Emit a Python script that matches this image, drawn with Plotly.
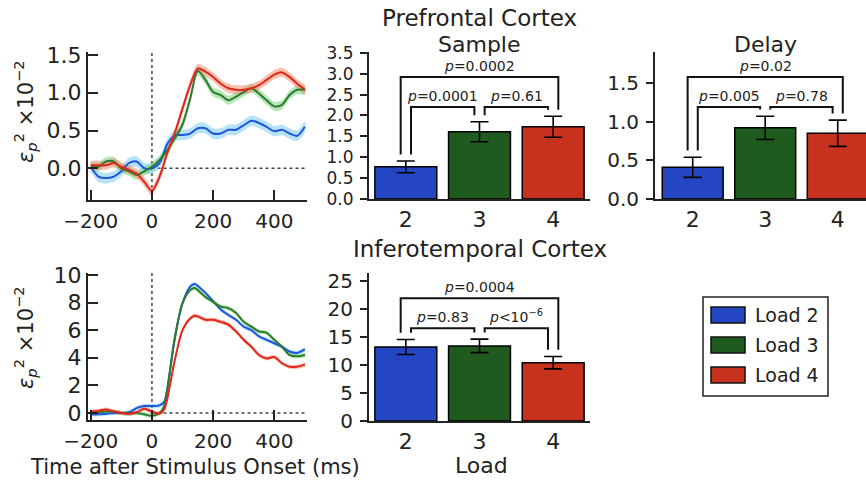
import plotly.graph_objects as go

# ---------------- data ----------------
t_pfc = [-200, -175, -150, -125, -100, -75, -50, -25, 0, 25, 50, 75, 100, 125, 150,
         175, 200, 225, 250, 275, 300, 325, 350, 375, 400, 425, 450, 475, 500]
pfc_load2 = [0.02, -0.11, -0.13, -0.11, -0.04, 0.07, 0.09, 0.0, 0.0, 0.07, 0.32, 0.44, 0.44, 0.46, 0.53,
             0.53, 0.46, 0.46, 0.51, 0.51, 0.57, 0.63, 0.60, 0.55, 0.49, 0.51, 0.46, 0.43, 0.55]
pfc_load3 = [0.02, 0.02, 0.09, 0.09, 0.0, -0.04, -0.09, -0.04, 0.02, 0.11, 0.24, 0.40, 0.58, 0.92, 1.29,
             1.17, 1.01, 0.97, 0.90, 0.95, 1.01, 1.06, 0.99, 0.90, 0.82, 0.84, 0.97, 1.04, 1.04]
pfc_load4 = [0.04, 0.04, 0.04, 0.07, 0.02, -0.02, -0.07, -0.18, -0.30, -0.11, 0.20, 0.47, 0.79, 1.10, 1.32,
             1.28, 1.21, 1.12, 1.06, 1.04, 1.04, 1.06, 1.10, 1.17, 1.24, 1.27, 1.21, 1.12, 1.04]
pfc_sem2 = [0.07, 0.07, 0.07, 0.07, 0.07, 0.07, 0.07, 0.07, 0.07, 0.07, 0.07, 0.07, 0.07, 0.07, 0.07,
            0.07, 0.07, 0.07, 0.07, 0.07, 0.07, 0.07, 0.07, 0.07, 0.07, 0.07, 0.07, 0.07, 0.07]
pfc_sem3 = [0.06, 0.06, 0.06, 0.06, 0.06, 0.06, 0.06, 0.06, 0.06, 0.06, 0.06, 0.06, 0.06, 0.06, 0.06,
            0.06, 0.06, 0.06, 0.06, 0.06, 0.06, 0.06, 0.06, 0.06, 0.06, 0.06, 0.06, 0.06, 0.06]
pfc_sem4 = [0.06, 0.06, 0.06, 0.06, 0.06, 0.06, 0.06, 0.06, 0.06, 0.06, 0.06, 0.06, 0.06, 0.06, 0.06,
            0.06, 0.06, 0.06, 0.06, 0.06, 0.06, 0.06, 0.06, 0.06, 0.06, 0.06, 0.06, 0.06, 0.06]

t_it = [-200, -175, -150, -125, -100, -75, -50, -25, 0, 25, 40, 50, 75, 100, 125, 140, 150,
        175, 200, 225, 250, 275, 300, 325, 350, 375, 400, 425, 450, 475, 500]
it_load2 = [-0.1, -0.1, -0.05, 0.0, 0.0, 0.05, 0.35, 0.5, 0.5, 0.55, 0.8, 1.7, 5.5, 7.95, 9.15, 9.35, 9.2,
            8.7, 8.1, 7.5, 7.1, 6.75, 6.25, 6.0, 5.55, 5.3, 5.05, 4.8, 4.45, 4.35, 4.6]
it_load3 = [0.0, 0.05, 0.1, 0.1, 0.0, -0.05, 0.0, -0.1, -0.2, 0.0, 0.5, 1.7, 5.4, 7.95, 8.9, 9.05, 8.9,
            8.4, 8.05, 7.7, 7.6, 7.25, 6.6, 6.25, 5.9, 5.8, 5.3, 4.8, 4.2, 4.1, 4.2]
it_load4 = [0.1, 0.15, 0.25, 0.1, 0.0, -0.05, 0.05, 0.3, 0.1, -0.05, 0.25, 1.0, 3.85, 6.0, 6.85, 7.05, 7.0,
            6.75, 6.75, 6.6, 6.4, 5.9, 5.3, 4.8, 4.2, 3.95, 4.05, 3.6, 3.35, 3.35, 3.5]
it_sem = [0.15, 0.15, 0.15, 0.15, 0.15, 0.15, 0.15, 0.15, 0.15, 0.15, 0.15, 0.15, 0.15, 0.15, 0.15, 0.15, 0.15,
          0.15, 0.15, 0.15, 0.15, 0.15, 0.15, 0.15, 0.15, 0.15, 0.15, 0.15, 0.15, 0.15, 0.15]

loads = [2, 3, 4]
load_names = ["Load 2", "Load 3", "Load 4"]
sample_mean = [0.77, 1.61, 1.73]
sample_err = [0.14, 0.24, 0.25]
delay_mean = [0.41, 0.92, 0.85]
delay_err = [0.13, 0.15, 0.17]
it_mean = [13.2, 13.4, 10.4]
it_err = [1.35, 1.2, 1.1]

sample_tests = [(2, 4, "=0.0002"), (2, 3, "=0.0001"), (3, 4, "=0.61")]
delay_tests = [(2, 4, "=0.02"), (2, 3, "=0.005"), (3, 4, "=0.78")]
it_tests = [(2, 4, "=0.0004"), (2, 3, "=0.83"), (3, 4, "&lt;10<sup>−6</sup>")]

pfc_ticks = [0.0, 0.5, 1.0, 1.5]
it_line_ticks = [0, 2, 4, 6, 8, 10]
time_ticks = [-200, 0, 200, 400]
sample_ticks = [0.0, 0.5, 1.0, 1.5, 2.0, 2.5, 3.0, 3.5]
delay_ticks = [0.0, 0.5, 1.0, 1.5]
it_bar_ticks = [0, 5, 10, 15, 20, 25]

# ---------------- style ----------------
W, H = 866, 484
FONT = "DejaVu Sans"
line_colors = ["#1f55dc", "#2e7a2e", "#e3261c"]
band_colors = ["rgba(110,200,245,0.5)", "rgba(110,205,110,0.5)", "rgba(245,130,100,0.5)"]
bar_colors = ["#2446c2", "#1f5a1f", "#c7321f"]


def px(x):
    return x / W


def py(y):
    return 1 - y / H


fig = go.Figure()


def add_lines(t, series, sems, xa, ya):
    for k, (s, e) in enumerate(zip(series, sems)):
        up = [a + b for a, b in zip(s, e)]
        lo = [a - b for a, b in zip(s, e)]
        fig.add_trace(go.Scatter(x=t + t[::-1], y=up + lo[::-1], fill="toself",
                                 fillcolor=band_colors[k], line=dict(width=0, shape="spline", smoothing=0.8),
                                 mode="lines", hoverinfo="skip", showlegend=False, xaxis=xa, yaxis=ya))
    for k, s in enumerate(series):
        fig.add_trace(go.Scatter(x=t, y=s, mode="lines",
                                 line=dict(color=line_colors[k], width=2, shape="spline", smoothing=0.8),
                                 name=load_names[k], showlegend=False, xaxis=xa, yaxis=ya))


add_lines(t_pfc, [pfc_load2, pfc_load3, pfc_load4], [pfc_sem2, pfc_sem3, pfc_sem4], "x", "y")
add_lines(t_it, [it_load2, it_load3, it_load4], [it_sem, it_sem, it_sem], "x2", "y2")


def add_bars(means, errs, xa, ya):
    fig.add_trace(go.Bar(x=loads, y=means, width=0.84,
                         marker=dict(color=bar_colors, line=dict(color="black", width=1.5)),
                         error_y=dict(type="data", array=errs, color="black", thickness=1.6, width=9),
                         showlegend=False, xaxis=xa, yaxis=ya))


add_bars(sample_mean, sample_err, "x3", "y3")
add_bars(delay_mean, delay_err, "x4", "y4")
add_bars(it_mean, it_err, "x5", "y5")

tickfont = dict(family=FONT, size=22, color="#222")
common = dict(automargin=False, showgrid=False, zeroline=False, showline=True, linecolor="#222",
              linewidth=2, tickfont=tickfont, tickcolor="#222", tickwidth=1.5)

line_x = dict(common, range=[-209, 507], tickvals=time_ticks, ticks="inside", ticklen=10,
              ticklabelstandoff=2, tickfont=dict(family=FONT, size=20, color="#222"))
bar_x = dict(common, tickvals=loads, ticks="", ticklabelstandoff=0)
line_y = dict(common, ticks="inside", ticklen=10, ticklabelstandoff=0)
bar_y = dict(common, ticks="outside", ticklen=7, ticklabelstandoff=3,
             tickfont=dict(family=FONT, size=20, color="#222"))

ranges = {
    "y3": [0, 3.52],
    "y4": [0, 1.90],
    "y5": [0, 26.4],
}

fig.update_layout(
    width=W, height=H, margin=dict(l=0, r=0, t=0, b=0, pad=0),
    paper_bgcolor="white", plot_bgcolor="rgba(0,0,0,0)", showlegend=False,
    font=dict(family=FONT, color="#222"),
    xaxis=dict(line_x, domain=[px(88), px(307)], anchor="y"),
    yaxis=dict(line_y, domain=[py(200), py(52)], range=[-0.42, 1.54], tickvals=pfc_ticks,
               tickformat=".1f", anchor="x"),
    xaxis2=dict(line_x, domain=[px(88), px(307)], anchor="y2"),
    yaxis2=dict(line_y, domain=[py(420), py(273)], range=[-0.51, 10.14], tickvals=it_line_ticks,
                anchor="x2"),
    xaxis3=dict(bar_x, domain=[px(369), px(590)], range=[1.5, 4.5], anchor="y3"),
    yaxis3=dict(bar_y, domain=[py(199), py(52)], range=ranges["y3"], tickvals=sample_ticks,
                tickformat=".1f", anchor="x3", tickfont=dict(family=FONT, size=17, color="#222")),
    xaxis4=dict(bar_x, domain=[px(655), 1.0], range=[1.48, 4.39], anchor="y4"),
    yaxis4=dict(bar_y, domain=[py(199), py(52)], range=ranges["y4"], tickvals=delay_ticks,
                tickformat=".1f", anchor="x4"),
    xaxis5=dict(bar_x, domain=[px(369), px(590)], range=[1.5, 4.5], anchor="y5"),
    yaxis5=dict(bar_y, domain=[py(421), py(273)], range=ranges["y5"], tickvals=it_bar_ticks,
                anchor="x5"),
)

shapes = []
annotations = []

# dotted reference lines on the time plots
for xa, ya in [("x", "y"), ("x2", "y2")]:
    shapes.append(dict(type="line", xref=xa, yref=ya + " domain", x0=0, x1=0, y0=0, y1=1,
                       line=dict(color="#444", width=1.5, dash="dot"), layer="below"))
    shapes.append(dict(type="line", xref=xa + " domain", yref=ya, x0=0.29, x1=1, y0=0, y1=0,
                       line=dict(color="#444", width=1.5, dash="dot"), layer="below"))


def add_brackets(tests, means, errs, ya, xa):
    r = ranges[ya]
    span = r[1] - r[0]
    gap = 0.045 * span
    top = {"outer": r[1] - 25 / 147 * span, "inner": r[1] - 55 / 147 * span}
    for i, j, lab in tests:
        outer = (j - i) > 1
        lev = top["outer"] if outer else top["inner"]
        off = 0.07
        xl = i - off if outer else i + off
        xr = j + off if outer else j - off
        yl = means[loads.index(i)] + errs[loads.index(i)] + gap
        yr = means[loads.index(j)] + errs[loads.index(j)] + gap
        shapes.append(dict(type="path", xref=xa, yref=ya,
                           path=f"M {xl},{yl} L {xl},{lev} L {xr},{lev} L {xr},{yr}",
                           line=dict(color="#111", width=2)))
        annotations.append(dict(x=(xl + xr) / 2, y=lev, xref=xa, yref=ya, text="<i>p</i>" + lab,
                                showarrow=False, yanchor="bottom", yshift=1,
                                font=dict(family=FONT, size=14, color="#222")))


add_brackets(sample_tests, sample_mean, sample_err, "y3", "x3")
add_brackets(delay_tests, delay_mean, delay_err, "y4", "x4")
add_brackets(it_tests, it_mean, it_err, "y5", "x5")


def txt(x, y, s, size, angle=0):
    annotations.append(dict(x=px(x), y=py(y), xref="paper", yref="paper", text=s, showarrow=False,
                            xanchor="center", yanchor="middle", textangle=angle,
                            font=dict(family=FONT, size=size, color="#222")))


txt(480, 18, "Prefrontal Cortex", 23)
txt(480, 44, "Sample", 22)
txt(765, 44, "Delay", 22)
txt(480, 249, "Inferotemporal Cortex", 23)
txt(195, 467, "Time after Stimulus Onset (ms)", 21)
txt(481, 465, "Load", 22)
ylab = "<i>ε</i><sub><i>p</i></sub><sup>2</sup> ×10<sup>−2</sup>"
txt(25, 112, ylab, 21, -90)
txt(25, 338, ylab, 21, -90)

# legend box (drawn)
shapes.append(dict(type="rect", xref="paper", yref="paper", x0=px(703), x1=px(828), y0=py(297), y1=py(396),
                   line=dict(color="#222", width=1.5), fillcolor="white"))
for k, name in enumerate(load_names):
    yc = 315 + 30 * k
    shapes.append(dict(type="rect", xref="paper", yref="paper", x0=px(711), x1=px(745),
                       y0=py(yc - 8), y1=py(yc + 8), line=dict(color="#111", width=1.5),
                       fillcolor=bar_colors[k]))
    annotations.append(dict(x=px(753), y=py(yc), xref="paper", yref="paper", text=name, showarrow=False,
                            xanchor="left", yanchor="middle", font=dict(family=FONT, size=19, color="#222")))

fig.update_layout(shapes=shapes, annotations=annotations)
fig.write_html("out.html")
